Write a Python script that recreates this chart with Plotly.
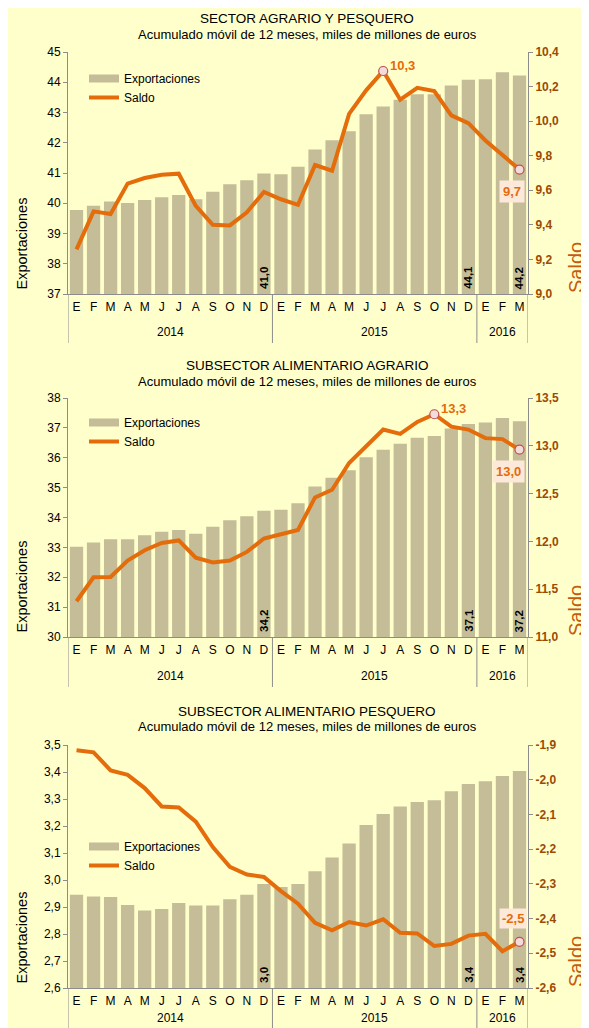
import plotly.graph_objects as go

W, H = 589, 1028
OFF = 8  # page body margin of the browser
FW, FH = W - OFF, H - OFF

# ---------------- data ----------------
MONTHS = ["E", "F", "M", "A", "M", "J", "J", "A", "S", "O", "N", "D",
          "E", "F", "M", "A", "M", "J", "J", "A", "S", "O", "N", "D",
          "E", "F", "M"]
YEARS = ["2014"] * 12 + ["2015"] * 12 + ["2016"] * 3

TITLES = ["SECTOR AGRARIO Y PESQUERO",
          "SUBSECTOR ALIMENTARIO AGRARIO",
          "SUBSECTOR ALIMENTARIO PESQUERO"]
SUBTITLE = "Acumulado móvil de 12 meses, miles de millones de euros"

exp_agrario_pesquero = [39.78, 39.92, 40.06, 40.01, 40.11, 40.20, 40.27, 40.13, 40.38, 40.63, 40.76, 40.98,
                        40.96, 41.21, 41.78, 42.08, 42.38, 42.94, 43.20, 43.42, 43.60, 43.60, 43.89, 44.08,
                        44.10, 44.33, 44.22]
saldo_agrario_pesquero = [9.258, 9.478, 9.463, 9.639, 9.671, 9.690, 9.696, 9.510, 9.400, 9.397, 9.473, 9.590,
                          9.548, 9.516, 9.746, 9.713, 10.042, 10.178, 10.290, 10.124, 10.193, 10.174, 10.033, 9.988,
                          9.888, 9.807, 9.720]

exp_alim_agrario = [33.02, 33.16, 33.27, 33.27, 33.41, 33.52, 33.58, 33.46, 33.69, 33.91, 34.04, 34.23,
                    34.26, 34.48, 35.04, 35.33, 35.58, 36.02, 36.27, 36.47, 36.67, 36.73, 36.98, 37.13,
                    37.18, 37.33, 37.22]
saldo_alim_agrario = [11.374, 11.625, 11.628, 11.800, 11.908, 11.984, 12.010, 11.830, 11.780, 11.800, 11.890, 12.030,
                      12.075, 12.120, 12.460, 12.540, 12.820, 12.990, 13.170, 13.125, 13.250, 13.330, 13.200, 13.170,
                      13.080, 13.070, 12.960]

exp_alim_pesquero = [2.9455, 2.939, 2.937, 2.907, 2.887, 2.893, 2.915, 2.906, 2.906, 2.929, 2.9455, 2.985,
                     2.974, 2.985, 3.032, 3.083, 3.135, 3.204, 3.244, 3.2725, 3.289, 3.295, 3.329, 3.356,
                     3.366, 3.385, 3.404]
saldo_alim_pesquero = [-1.915, -1.921, -1.973, -1.986, -2.024, -2.077, -2.080, -2.121, -2.194, -2.251, -2.273, -2.280,
                       -2.321, -2.357, -2.412, -2.434, -2.410, -2.420, -2.402, -2.441, -2.443, -2.479, -2.473, -2.449,
                       -2.444, -2.494, -2.467]

LEFT_RANGES = [(37, 45, 1), (30, 38, 1), (2.6, 3.5, 0.1)]
RIGHT_TICKS = [[9.0, 9.2, 9.4, 9.6, 9.8, 10.0, 10.2, 10.4],
               [11.0, 11.5, 12.0, 12.5, 13.0, 13.5],
               [-2.6, -2.5, -2.4, -2.3, -2.2, -2.1, -2.0, -1.9]]
SHOW_PEAK = [True, True, False]
LAST_LABEL_ABOVE = [False, False, True]

EXPORTS = [exp_agrario_pesquero, exp_alim_agrario, exp_alim_pesquero]
SALDOS = [saldo_agrario_pesquero, saldo_alim_agrario, saldo_alim_pesquero]

# ---------------- style ----------------
BG = "#FFFFCC"
BAR = "#C4BD97"
LINE = "#E46C0A"
RTICK = "#9C4A06"
SALDO_TITLE = "#C55A11"
AXIS = "#8C8C8C"
FONT = "Liberation Sans"

X0, X1 = 68, 528
PANELS = [(52, 294), (398, 637), (745, 988)]
TITLE_Y = [(19, 34), (365, 381), (711, 726)]
LEGEND_TOP = [64, 408, 832]
LEGEND_X = 84
YEAR_Y = [332, 676, 1018]
DIV_BOTTOM = [343, 687, 1028]


def xp(px):
    return (px - OFF) / FW


def yp(px):
    return 1 - (px - OFF) / FH


def fmt(v):
    return f"{v:.1f}".replace(".", ",")


fig = go.Figure()
layout = dict(
    width=FW, height=FH,
    margin=dict(l=0, r=0, t=0, b=0, autoexpand=False),
    paper_bgcolor=BG, plot_bgcolor=BG,
    separators=",.",
    font=dict(family=FONT, size=12, color="#000000"),
    bargap=0.22,
    annotations=[], shapes=[],
)

xidx = list(range(len(MONTHS)))

for i in range(3):
    top, bot = PANELS[i]
    xa = "x" if i == 0 else f"x{i + 1}"
    yl = "y" if i == 0 else f"y{2 * i + 1}"
    yr = f"y{2 * i + 2}"
    leg = "legend" if i == 0 else f"legend{i + 1}"
    exp = EXPORTS[i]
    sal = SALDOS[i]
    n = len(exp)
    lo, hi, dt = LEFT_RANGES[i]

    # legend proxy for bars (wide swatch)
    fig.add_trace(go.Scatter(x=[None], y=[None], mode="lines", name="Exportaciones",
                             line=dict(color=BAR, width=8), xaxis=xa, yaxis=yl,
                             legend=leg, showlegend=True, hoverinfo="skip"))
    fig.add_trace(go.Bar(x=xidx, y=exp, marker=dict(color=BAR, line=dict(width=0)),
                         xaxis=xa, yaxis=yl, showlegend=False, name="Exportaciones"))
    fig.add_trace(go.Scatter(x=xidx, y=sal, mode="lines", name="Saldo",
                             line=dict(color=LINE, width=4), xaxis=xa, yaxis=yr,
                             legend=leg, showlegend=True))
    # bar value labels (December and last month)
    for k, v in enumerate(exp):
        if MONTHS[k] == "D" or k == n - 1:
            layout["annotations"].append(dict(
                x=xidx[k], y=lo, xref=xa, yref=yl, text=fmt(v), textangle=-90, showarrow=False,
                xanchor="center", yanchor="bottom", yshift=3,
                font=dict(family=FONT, size=11.5, color="#000000", weight="bold")))
    # markers
    pts = []
    pk = None
    if SHOW_PEAK[i]:
        pk = max(range(n), key=lambda k: sal[k])
        pts.append(pk)
    pts.append(n - 1)
    fig.add_trace(go.Scatter(x=[xidx[k] for k in pts], y=[sal[k] for k in pts], mode="markers",
                             marker=dict(size=9, color="#F2DCDB", line=dict(color="#C0504D", width=1.2)),
                             xaxis=xa, yaxis=yr, showlegend=False))
    if pk is not None:
        layout["annotations"].append(dict(
            x=xidx[pk], y=sal[pk], xref=xa, yref=yr, text=fmt(sal[pk]), showarrow=False,
            xanchor="left", yanchor="middle", xshift=5, yshift=6,
            font=dict(family=FONT, size=13, color=LINE, weight="bold")))
    if LAST_LABEL_ABOVE[i]:
        layout["annotations"].append(dict(
            x=xidx[-1], y=sal[-1], xref=xa, yref=yr, text=fmt(sal[-1]), showarrow=False,
            xanchor="right", yanchor="bottom", xshift=8, yshift=13, bgcolor="#FDE9D9", borderpad=2,
            font=dict(family=FONT, size=13, color=LINE, weight="bold")))
    else:
        layout["annotations"].append(dict(
            x=xidx[-1], y=sal[-1], xref=xa, yref=yr, text=fmt(sal[-1]), showarrow=False,
            xanchor="right", yanchor="top", xshift=6, yshift=-10, bgcolor="#FDE9D9", borderpad=3,
            font=dict(family=FONT, size=13, color=LINE, weight="bold")))

    layout["xaxis" if i == 0 else f"xaxis{i + 1}"] = dict(
        domain=[xp(X0), xp(X1)], anchor=yl, range=[-0.5, n - 0.5], automargin=False,
        tickmode="array", tickvals=xidx, ticktext=MONTHS, ticks="",
        ticklabelstandoff=2,
        showline=True, linecolor=AXIS, linewidth=1, showgrid=False, zeroline=False,
        tickfont=dict(family=FONT, size=12, color="#000000"), fixedrange=True)
    layout["yaxis" if i == 0 else f"yaxis{2 * i + 1}"] = dict(
        domain=[yp(bot), yp(top)], anchor=xa, range=[lo, hi], dtick=dt, tick0=lo, automargin=False,
        tickformat=(".1f" if dt < 1 else "d"),
        showline=True, linecolor=AXIS, ticks="outside", ticklen=4, tickcolor=AXIS,
        showgrid=False, zeroline=False,
        tickfont=dict(family=FONT, size=12, color="#000000"), fixedrange=True)
    rt = RIGHT_TICKS[i]
    layout[f"yaxis{2 * i + 2}"] = dict(
        overlaying=yl, side="right", anchor=xa, range=[rt[0], rt[-1]], automargin=False,
        tickmode="array", tickvals=rt, ticktext=[fmt(v) for v in rt],
        showline=True, linecolor=AXIS, ticks="outside", ticklen=4, tickcolor=AXIS,
        showgrid=False, zeroline=False,
        tickfont=dict(family=FONT, size=12, color=RTICK, weight="bold"), fixedrange=True)

    layout[leg] = dict(x=xp(LEGEND_X), y=yp(LEGEND_TOP[i]), xanchor="left", yanchor="top",
                       bgcolor="rgba(0,0,0,0)", borderwidth=0,
                       font=dict(family=FONT, size=12, color="#000000"),
                       tracegroupgap=0, itemclick=False)

    # titles
    layout["annotations"].append(dict(
        x=xp(307), y=yp(TITLE_Y[i][0]), xref="paper", yref="paper", text=TITLES[i],
        showarrow=False, xanchor="center", yanchor="middle",
        font=dict(family=FONT, size=13.5, color="#000000")))
    layout["annotations"].append(dict(
        x=xp(307), y=yp(TITLE_Y[i][1]), xref="paper", yref="paper", text=SUBTITLE,
        showarrow=False, xanchor="center", yanchor="middle",
        font=dict(family=FONT, size=13, color="#000000")))
    # axis titles
    layout["annotations"].append(dict(
        x=xp(21.5), y=yp(bot - 50), xref="paper", yref="paper", text="Exportaciones",
        textangle=-90, showarrow=False, xanchor="center", yanchor="middle",
        font=dict(family=FONT, size=14.5, color="#000000")))
    layout["annotations"].append(dict(
        x=xp(576), y=yp(bot - 26), xref="paper", yref="paper", text="Saldo",
        textangle=-90, showarrow=False, xanchor="center", yanchor="middle",
        font=dict(family=FONT, size=20, color=SALDO_TITLE)))

    # year group labels and dividers
    groups = []
    for k, yv in enumerate(YEARS):
        if not groups or groups[-1][0] != yv:
            groups.append([yv, k, k])
        else:
            groups[-1][2] = k
    bounds = set()
    for yv, a, b in groups:
        layout["annotations"].append(dict(
            x=(a + b) / 2, y=yp(YEAR_Y[i]), xref=xa, yref="paper", text=yv, showarrow=False,
            xanchor="center", yanchor="middle", font=dict(family=FONT, size=12, color="#000000")))
        bounds.add(a - 0.5)
        bounds.add(b + 0.5)
    for bx in sorted(bounds):
        layout["shapes"].append(dict(
            type="line", xref=xa, yref="paper", x0=bx, x1=bx,
            y0=yp(bot), y1=yp(DIV_BOTTOM[i]), line=dict(color=AXIS, width=1)))

fig.update_layout(**layout)
fig.write_html("out.html")
